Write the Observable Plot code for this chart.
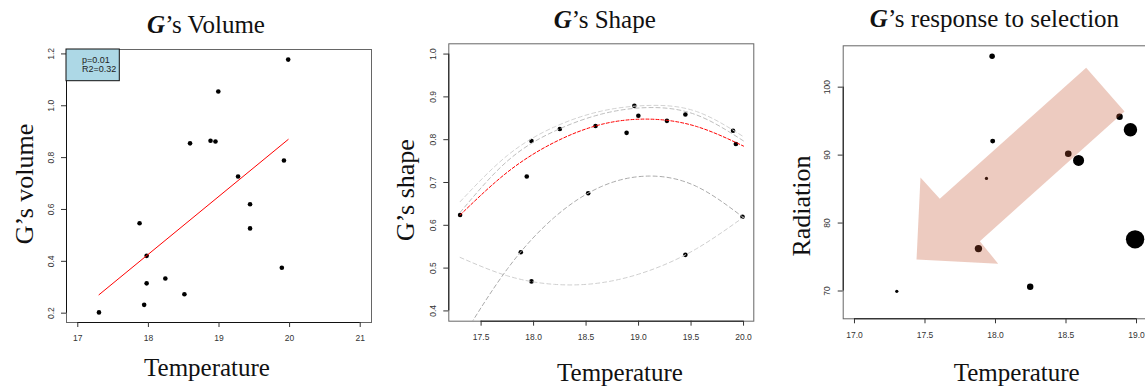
<!DOCTYPE html>
<html><head><meta charset="utf-8">
<script src="https://cdn.jsdelivr.net/npm/d3@7"></script>
<script src="https://cdn.jsdelivr.net/npm/@observablehq/plot@0.6"></script>
<style>
body{margin:0;background:#fff}
#chart{position:relative;width:1145px;height:389px;overflow:hidden;background:#fff}
.panel{position:absolute;top:0}
#overlay{position:absolute;left:0;top:0;z-index:2;pointer-events:none}
</style></head><body>
<div id="chart"></div>
<script>
// ---------- Panel 1: G's Volume ----------
const volTemp   = [17.30,17.875,17.975,17.975,17.94,18.24,18.51,18.59,18.88,18.95,18.99,19.27,19.44,19.44,19.89,19.92,19.98];
const volume    = [0.203,0.547,0.421,0.315,0.232,0.334,0.273,0.855,0.865,0.862,1.055,0.727,0.620,0.527,0.375,0.789,1.178];
const fitTemp   = [17.30, 19.98];
const fitVolume = [0.271, 0.870];
const volStats  = ["p=0.01", "R2=0.32"];
const volXLim   = [17, 21];
const volXTicks = [17, 18, 19, 20, 21];
const volYTicks = [0.2, 0.4, 0.6, 0.8, 1.0, 1.2];

// ---------- Panel 2: G's Shape ----------
const shapeTemp = [17.30,17.878,17.935,17.98,17.98,18.25,18.52,18.59,18.886,18.96,18.998,19.27,19.446,19.446,19.90,19.927,19.99];
const shape     = [0.624,0.537,0.714,0.797,0.469,0.825,0.675,0.832,0.816,0.879,0.856,0.844,0.859,0.531,0.821,0.790,0.620];
const curveTemp = [17.3, 17.75, 18.2, 18.65, 19.1, 19.55, 20.0];
const curveTop  = [0.655, 0.763, 0.830, 0.867, 0.880, 0.866, 0.807];
const curveMid  = [0.630, 0.750, 0.820, 0.860, 0.875, 0.858, 0.797];
const curveRed  = [0.624, 0.724, 0.794, 0.836, 0.848, 0.831, 0.785];
const curveLowA = [0.329, 0.498, 0.619, 0.691, 0.715, 0.691, 0.618];
const curveLowB = [0.525, 0.482, 0.462, 0.466, 0.494, 0.545, 0.619];
const shapeYLim   = [0.4, 1.0];
const shapeXTicks = [17.5, 18.0, 18.5, 19.0, 19.5, 20.0];
const shapeYTicks = [0.4, 0.5, 0.6, 0.7, 0.8, 0.9, 1.0];

// ---------- Panel 3: G's response to selection ----------
const selTemp   = [17.30,17.936,17.976,17.98,17.879,18.246,18.516,18.589,18.88,18.957,18.99];
const radiation = [69.96,86.57,104.56,92.06,76.24,70.64,90.2,89.22,95.65,93.73,77.6];
const response  = [0.18,0.18,0.30,0.27,0.40,0.35,0.36,0.60,0.35,0.73,1.0];
const arrowTemp = [18.643,18.915,17.889,18.019,17.44,17.468,17.605];
const arrowRad  = [102.85,96.43,77.31,74.03,74.62,86.72,83.59];
const selXLim   = [17, 19];
const selYLim   = [67.4, 104.6];
const selXTicks = [17.0, 17.5, 18.0, 18.5, 19.0];
const selYTicks = [70, 80, 90, 100];

// ---------- helpers ----------
const pad = ([a, b]) => [a - 0.04 * (b - a), b + 0.04 * (b - a)];
const zip = (xs, ys, extra = {}) => xs.map((x, i) => {
  const o = {x, y: ys[i]};
  for (const k in extra) o[k] = extra[k][i];
  return o;
});
const baseStyle = {fontFamily: "'Liberation Sans', Arial, sans-serif", fontSize: "8.5px",
  color: "#333", background: "transparent", overflow: "visible", maxWidth: "none"};

function rAxes(xd, yd, xTicks, yTicks, xfmt, yfmt, xPad) {
  return [
    Plot.frame({stroke: "#666", strokeWidth: 1}),
    Plot.ruleX([xd[0]], {y1: yTicks[0], y2: yTicks[yTicks.length - 1], stroke: "#111"}),
    Plot.ruleY([yd[0]], {x1: xTicks[0], x2: xTicks[xTicks.length - 1], stroke: "#111"}),
    Plot.axisX({ticks: xTicks, tickSize: 5, tickPadding: xPad, tickFormat: xfmt, label: null, fontSize: 8.5}),
    Plot.axisY({ticks: yTicks, tickSize: 5, tickPadding: 8, tickRotate: -90, tickFormat: yfmt, label: null, fontSize: 8.5})
  ];
}

const chart = document.getElementById("chart");
function place(svg, left, width) {
  const d = document.createElement("div");
  d.className = "panel";
  d.style.left = left + "px";
  d.style.width = width + "px";
  d.appendChild(svg);
  chart.appendChild(d);
}

// Panel 1
{
  const xd = pad(volXLim), yd = pad(d3.extent(volume));
  const p = Plot.plot({
    width: 380, height: 389, marginLeft: 66, marginRight: 9, marginTop: 49, marginBottom: 67,
    style: baseStyle,
    x: {domain: xd}, y: {domain: yd},
    marks: [
      ...rAxes(xd, yd, volXTicks, volYTicks, d3.format("d"), d3.format(".1f"), 7.5),
      Plot.dot(zip(volTemp, volume), {x: "x", y: "y", r: 2.3, fill: "#000", stroke: "none"}),
      Plot.line(zip(fitTemp, fitVolume), {x: "x", y: "y", stroke: "#f00", strokeWidth: 1})
    ]
  });
  place(p, 0, 380);
}

// Panel 2
{
  const xd = pad(d3.extent(shapeTemp)), yd = pad(shapeYLim);
  const curve = (ys, stroke, dash) => Plot.line(zip(curveTemp, ys), {x: "x", y: "y", curve: "natural",
    stroke, strokeWidth: 1, strokeDasharray: dash, clip: true});
  const p = Plot.plot({
    width: 383.3, height: 389, marginLeft: 68.3, marginRight: 10, marginTop: 43.3, marginBottom: 68.3,
    style: baseStyle,
    x: {domain: xd}, y: {domain: yd},
    marks: [
      ...rAxes(xd, yd, shapeXTicks, shapeYTicks, d3.format(".1f"), d3.format(".1f"), 7.3),
      Plot.dot(zip(shapeTemp, shape), {x: "x", y: "y", r: 2.3, fill: "#000", stroke: "none"}),
      curve(curveLowB, "#cfcfcf", "4,3"),
      curve(curveLowA, "#ababab", "4,3"),
      curve(curveTop, "#d2d2d2", "4,3"),
      curve(curveMid, "#bdbdbd", "4,3"),
      curve(curveRed, "#f00", "3,2")
    ]
  });
  place(p, 380, 383.3);
}

// Panel 3
{
  const xd = pad(selXLim), yd = pad(selYLim);
  const p = Plot.plot({
    width: 387.3, height: 389, marginLeft: 72.7, marginRight: 10, marginTop: 45.3, marginBottom: 70.7,
    style: baseStyle,
    x: {domain: xd}, y: {domain: yd},
    r: {type: "linear", domain: [0, 1], range: [0, 9.2]},
    marks: [
      ...rAxes(xd, yd, selXTicks, selYTicks, d3.format(".1f"), d3.format("d"), 8.5),
      Plot.dot(zip(selTemp, radiation, {resp: response}), {x: "x", y: "y", r: "resp", fill: "#000", stroke: "none"}),
      Plot.line(zip(arrowTemp, arrowRad), {x: "x", y: "y", fill: "rgb(195,82,48)", fillOpacity: 0.3, stroke: "none", curve: "linear-closed"})
    ]
  });
  place(p, 770, 387.3);
}

// ---------- Overlay: titles, axis labels, stats box ----------
const titles = [
  {x: 206, y: 33, rest: "’s Volume"},
  {x: 604.7, y: 28.3, rest: "’s Shape"},
  {x: 994.5, y: 27.3, rest: "’s response to selection"}
];
const xLabels = [{x: 207, y: 376, t: "Temperature"}, {x: 620, y: 381, t: "Temperature"}, {x: 1016.7, y: 381, t: "Temperature"}];
const yLabels = [{x: 33, y: 184, t: "G’s volume"}, {x: 413.5, y: 190, t: "G’s shape"}, {x: 810, y: 206, t: "Radiation"}];

const ns = "http://www.w3.org/2000/svg";
const ov = d3.select(chart).append("svg").attr("id", "overlay").attr("width", 1145).attr("height", 389)
  .style("font-family", "'Liberation Serif', 'Times New Roman', serif");
for (const t of titles) {
  const tx = ov.append("text").attr("x", t.x).attr("y", t.y).attr("text-anchor", "middle").attr("font-size", 25).attr("fill", "#111");
  tx.append("tspan").attr("font-weight", "bold").attr("font-style", "italic").text("G");
  tx.append("tspan").text(t.rest);
}
for (const t of xLabels) ov.append("text").attr("x", t.x).attr("y", t.y).attr("text-anchor", "middle").attr("font-size", 25).attr("fill", "#111").text(t.t);
for (const t of yLabels) ov.append("text").attr("transform", `translate(${t.x},${t.y}) rotate(-90)`).attr("text-anchor", "middle").attr("font-size", 26).attr("fill", "#111").text(t.t);

// stats legend box (panel 1, top-left corner of plot region)
const lg = ov.append("g").style("font-family", "'Liberation Sans', Arial, sans-serif");
lg.append("rect").attr("x", 66).attr("y", 49).attr("width", 53.3).attr("height", 31.7).attr("fill", "#ADD8E6").attr("stroke", "#111").attr("stroke-width", 1);
volStats.forEach((s, i) => lg.append("text").attr("x", 82).attr("y", 63.3 + i * 9).attr("font-size", 9).attr("fill", "#222").text(s));
</script>
</body></html>
